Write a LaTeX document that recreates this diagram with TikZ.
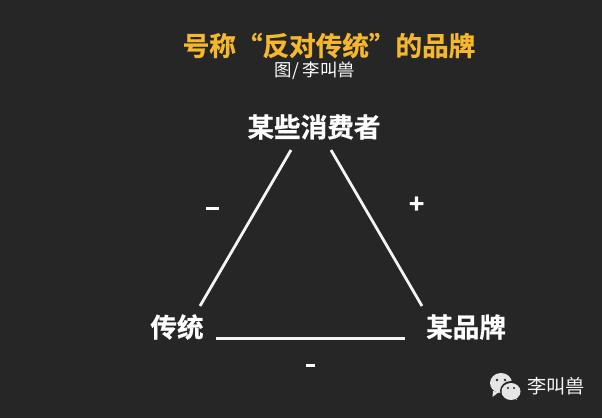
\documentclass[tikz,border=0pt]{standalone}
\usepackage{fontspec}
\newfontfamily\cjkb[RawFeature={embolden=0.7}]{Noto Sans CJK SC Bold}
\newfontfamily\cjkr{Noto Sans CJK SC}
\definecolor{bgdark}{HTML}{262626}
\definecolor{titleorange}{HTML}{F5B82C}
\definecolor{softwhite}{HTML}{F4F4F4}
\definecolor{wechat}{HTML}{E6E6E6}
\tikzset{
  lbl/.style={inner sep=0pt,text=white,font=\cjkb\fontsize{26.6}{26.6}\selectfont},
  edge/.style={draw=softwhite,line width=2.8pt},
  small/.style={inner sep=0pt,text=white,font=\cjkr\fontsize{17.4}{17.4}\selectfont},
}
\begin{document}
\begin{tikzpicture}[x=1pt,y=-1pt]
\useasboundingbox (0,0) rectangle (602,418);
\fill[bgdark] (0,0) rectangle (602,418);
\node[inner sep=0pt,text=titleorange,font=\cjkb\fontsize{26.6}{26.6}\selectfont] (title) at (329,45.5) {号称“反对传统”的品牌};
\node[small] (credit) at (315,71) {图/ 李叫兽};
\node[lbl] (consumer) at (314,127) {某些消费者};
\node[lbl] (tradition) at (177,327) {传统};
\node[lbl] (brand) at (466,327) {某品牌};
\coordinate (la) at (291,150);
\coordinate (lb) at (200,306);
\coordinate (ra) at (331,150);
\coordinate (rb) at (422,306);
\coordinate (ba) at (216,338.5);
\coordinate (bb) at (405,338.5);
\draw[edge] (la) -- (lb);
\draw[edge] (ra) -- (rb);
\draw[edge] (ba) -- (bb);
\fill[white] (205.5,206.5) rectangle (218.5,209.5);
\node[inner sep=0pt,text=white,font=\cjkb\fontsize{26}{26}\selectfont] (plus) at (416.5,205) {+};
\fill[white] (306,363.5) rectangle (315,366.5);
% WeChat icon
\fill[wechat] (501,383) ellipse (11pt and 10pt);
\fill[wechat] (493,391) -- (492.5,397) -- (499,392) -- cycle;
\fill[bgdark] (511,391) ellipse (11pt and 10pt);
\fill[wechat] (511,391.5) ellipse (9.5pt and 8.5pt);
\fill[wechat] (515,398) -- (517,400) -- (515.5,396) -- cycle;
\fill[bgdark] (497,380) circle (1.3pt) (505,380) circle (1.3pt) (508,388) circle (1.1pt) (514,388) circle (1.1pt);
\node[inner sep=0pt,text=softwhite,font=\cjkr\fontsize{19.2}{19.2}\selectfont] (mark) at (556,386) {李叫兽};
\end{tikzpicture}
\end{document}
